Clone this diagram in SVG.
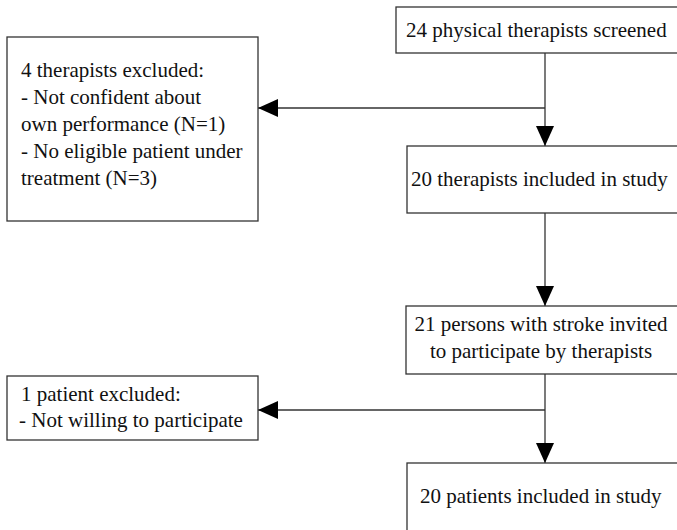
<svg xmlns="http://www.w3.org/2000/svg" width="677" height="530" viewBox="0 0 677 530">
<style>
.box{fill:#fff;stroke:#333;stroke-width:1.3}
.t{font-family:'Liberation Serif','DejaVu Serif',serif;font-size:21px;fill:#111}
.ln{stroke:#333;stroke-width:1.3;fill:none}
</style>
<defs>
<marker id="ah" markerWidth="20" markerHeight="18" refX="20" refY="9" orient="auto" markerUnits="userSpaceOnUse">
<path d="M0,0 L20,9 L0,18 Z" fill="#000"/>
</marker>
</defs>
<rect width="677" height="530" fill="#fff"/>
<g id="connectors">
<line class="ln" x1="545" y1="53" x2="545" y2="146" marker-end="url(#ah)"/>
<line class="ln" x1="545" y1="108" x2="258" y2="108" marker-end="url(#ah)"/>
<line class="ln" x1="545" y1="213" x2="545" y2="306" marker-end="url(#ah)"/>
<line class="ln" x1="545" y1="374" x2="545" y2="463" marker-end="url(#ah)"/>
<line class="ln" x1="545" y1="410" x2="258" y2="410" marker-end="url(#ah)"/>
</g>
<g id="screened">
<rect class="box" x="396" y="7" width="290" height="46"/>
<text class="t" x="406" y="37" font-family="Liberation Serif">24 physical therapists screened</text>
</g>
<g id="excluded1">
<rect class="box" x="7" y="37" width="251" height="184"/>
<text class="t" x="21" y="77">4 therapists excluded:</text>
<text class="t" x="21" y="104">- Not confident about</text>
<text class="t" x="21" y="131">own performance (N=1)</text>
<text class="t" x="21" y="158">- No eligible patient under</text>
<text class="t" x="21" y="185">treatment (N=3)</text>
</g>
<g id="included1">
<rect class="box" x="407" y="146" width="280" height="67"/>
<text class="t" x="411" y="186">20 therapists included in study</text>
</g>
<g id="invited">
<rect class="box" x="406" y="306" width="280" height="68"/>
<text class="t" x="541" y="331" text-anchor="middle">21 persons with stroke invited</text>
<text class="t" x="541" y="358" text-anchor="middle">to participate by therapists</text>
</g>
<g id="excluded2">
<rect class="box" x="7" y="376" width="251" height="64"/>
<text class="t" x="21" y="401">1 patient excluded:</text>
<text class="t" x="19" y="427">- Not willing to participate</text>
</g>
<g id="included2">
<rect class="box" x="407" y="463" width="280" height="80"/>
<text class="t" x="420" y="503">20 patients included in study</text>
</g>
</svg>
